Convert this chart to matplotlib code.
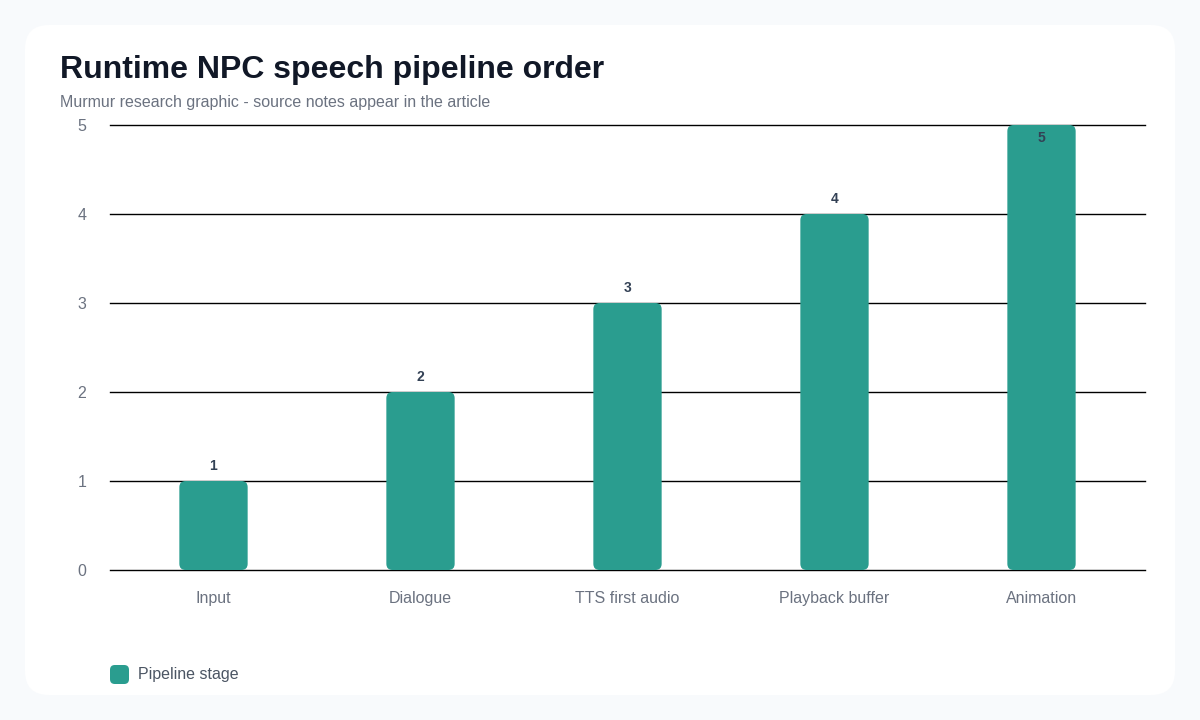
import matplotlib
matplotlib.use("Agg")
import matplotlib.pyplot as plt
from matplotlib.patches import FancyBboxPatch

plt.rcParams['font.family'] = ['Liberation Sans', 'DejaVu Sans']

# data
stages = ['Input', 'Dialogue', 'TTS first audio', 'Playback buffer', 'Animation']
order = [1, 2, 3, 4, 5]

bar_color = '#2a9d8f'
W, H = 1200, 720

fig = plt.figure(figsize=(12, 7.2), dpi=100)
fig.patch.set_facecolor('#f8fafc')

# white card
card = FancyBboxPatch((25 / W, 25 / H), 1150 / W, 670 / H,
                      boxstyle='round,pad=0,rounding_size=0.02',
                      mutation_aspect=W / H,
                      transform=fig.transFigure, facecolor='white',
                      edgecolor='none', zorder=-5)
fig.patches.append(card)

fig.text(60 / W, 1 - 70 / H, 'Runtime NPC speech pipeline order',
         fontsize=23, fontweight='bold', color='#111827', va='center')
fig.text(60 / W, 1 - 102 / H, 'Murmur research graphic - source notes appear in the article',
         fontsize=11.5, color='#6b7280', va='center')

ax = fig.add_axes([110 / W, 1 - 570 / H, 1035 / W, 445 / H])
ax.set_facecolor('none')
x = list(range(len(stages)))
bars = ax.bar(x, order, width=0.33, color=bar_color)
ax.set_xlim(-0.5, len(stages) - 0.5)
ax.set_ylim(0, 5)

# swap plain bars for rounded ones
for b in bars:
    b.set_visible(False)
    rp = FancyBboxPatch((b.get_x(), 0), b.get_width(), b.get_height(),
                        boxstyle='round,pad=0,rounding_size=0.03',
                        mutation_aspect=2.33, facecolor=bar_color,
                        edgecolor='none', zorder=3)
    ax.add_patch(rp)

for xi, v in zip(x, order):
    if v >= max(order):
        ax.annotate(str(v), (xi, v), xytext=(0, -9), textcoords='offset points',
                    ha='center', va='center', fontsize=10, fontweight='bold',
                    color='#334155', zorder=4)
    else:
        ax.annotate(str(v), (xi, v), xytext=(0, 11), textcoords='offset points',
                    ha='center', va='center', fontsize=10, fontweight='bold',
                    color='#334155', zorder=4)

ax.set_yticks(range(6))
ax.yaxis.grid(True, color='black', linewidth=1)
for gl in ax.get_ygridlines():
    gl.set_clip_on(False)
ax.set_axisbelow(True)
ax.set_xticks(x)
ax.set_xticklabels(stages)
ax.tick_params(axis='both', length=0, labelsize=11.5, labelcolor='#6b7280')
ax.tick_params(axis='x', pad=15)
ax.tick_params(axis='y', pad=17)
for s in ax.spines.values():
    s.set_visible(False)

# legend
leg = FancyBboxPatch((110 / W, 1 - 684 / H), 19 / W, 19 / H,
                     boxstyle='round,pad=0,rounding_size=0.004',
                     mutation_aspect=W / H, transform=fig.transFigure,
                     facecolor=bar_color, edgecolor='none')
fig.patches.append(leg)
fig.text(138 / W, 1 - 674 / H, 'Pipeline stage', fontsize=11.5,
         color='#4b5563', va='center')

plt.savefig('out.png', dpi=100, facecolor=fig.get_facecolor())
